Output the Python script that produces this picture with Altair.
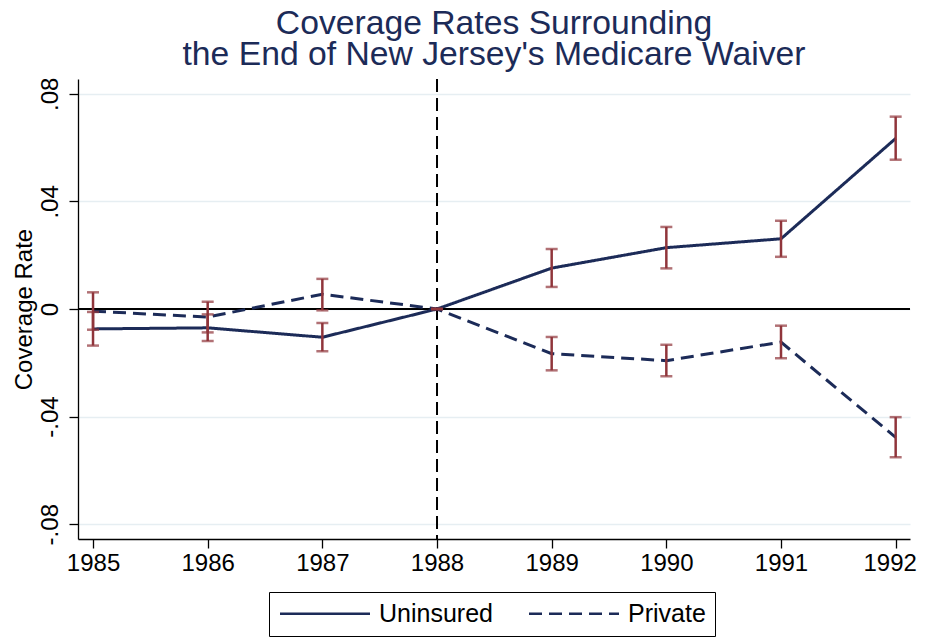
import altair as alt
import pandas as pd

FONT = "Liberation Sans"
NAVY = "#1c2b58"
CRAN = "#90353b"

years = [1985, 1986, 1987, 1988, 1989, 1990, 1991, 1992]

uninsured = [-0.0074, -0.0070, -0.0105, 0.0, 0.0152, 0.0228, 0.0261, 0.0634]
uninsured_lo = [-0.0136, -0.0119, -0.0157, 0.0, 0.0082, 0.0151, 0.0194, 0.0555]
uninsured_hi = [-0.0011, -0.0020, -0.0052, 0.0, 0.0223, 0.0305, 0.0328, 0.0715]

private = [-0.0008, -0.0030, 0.0055, 0.0, -0.0166, -0.0192, -0.0123, -0.0477]
private_lo = [-0.0077, -0.0087, -0.0005, 0.0, -0.0228, -0.0250, -0.0183, -0.0551]
private_hi = [0.0062, 0.0027, 0.0112, 0.0, -0.0104, -0.0133, -0.0062, -0.0402]

series_names = ["Uninsured", "Private"]
y_ticks = [-0.08, -0.04, 0.0, 0.04, 0.08]

rows = []
for name, vals, los, his in [
    ("Uninsured", uninsured, uninsured_lo, uninsured_hi),
    ("Private", private, private_lo, private_hi),
]:
    for yr, v, lo, hi in zip(years, vals, los, his):
        rows.append({"year": yr, "series": name, "value": v, "lo": lo, "hi": hi})
df = pd.DataFrame(rows)

x_scale = alt.Scale(domain=[1984.869, 1992.125], zero=False, nice=False)
y_scale = alt.Scale(domain=[-0.0855, 0.0855], zero=False, nice=False)

x_axis = alt.Axis(
    values=years, format="d", title=None, grid=False,
    labelFontSize=24, labelFont=FONT, labelColor="black", labelPadding=3,
    labelFlush=False, labelOverlap=False,
    labelOffset={"condition": {"test": "datum.value == 1992", "value": -6}, "value": 0},
    tickSize=9, tickColor="black", tickWidth=1.3,
    domainColor="black", domainWidth=1.3,
)
y_axis = alt.Axis(
    values=y_ticks,
    labelExpr="datum.value == 0 ? '0' : (datum.value < 0 ? '-' + replace(format(-datum.value, '.2f'), '0.', '.') : replace(format(datum.value, '.2f'), '0.', '.'))",
    labelAngle=-90, labelAlign="center", labelBaseline="alphabetic",
    labelFontSize=24, labelFont=FONT, labelColor="black", labelPadding=12,
    labelFlush=False, labelOverlap=False,
    tickSize=9, tickColor="black", tickWidth=1.3,
    domainColor="black", domainWidth=1.3,
    grid=True, gridColor="#e6eef2", gridWidth=1.5,
    title="Coverage Rate", titleFont=FONT, titleFontSize=24, titleFontWeight="normal",
    titleColor="black", titleAngle=-90, titleAlign="center", titleBaseline="alphabetic",
    titleX=-46.6, titleY=230,
)

base = alt.Chart(df)

vline = alt.Chart(pd.DataFrame({"x": [1988]})).mark_rule(
    color="black", strokeWidth=2, strokeDash=[13, 6]
).encode(x=alt.X("x:Q", scale=x_scale, axis=x_axis))

hline = alt.Chart(pd.DataFrame({"y": [0.0]})).mark_rule(
    color="black", strokeWidth=2
).encode(y=alt.Y("y:Q", scale=y_scale, axis=y_axis))

lines = base.mark_line(color=NAVY, strokeWidth=3).encode(
    x=alt.X("year:Q", scale=x_scale, axis=x_axis),
    y=alt.Y("value:Q", scale=y_scale, axis=y_axis),
    strokeDash=alt.StrokeDash(
        "series:N",
        scale=alt.Scale(domain=series_names, range=[[1, 0], [13, 7]]),
        legend=alt.Legend(
            orient="none", legendX=191, legendY=513, direction="horizontal",
            title=None, symbolType="M-5,0H5", symbolSize=324,
            symbolOffset=34.5,
            symbolStrokeWidth=2.5, symbolStrokeColor=NAVY,
            labelFontSize=25, labelFont=FONT, labelColor="black",
            labelOffset=41.5, columnPadding=31, padding=9,
            strokeColor="black", fillColor="white",
        ),
    ),
    detail="series:N",
)

err = base.mark_rule(color=CRAN, strokeWidth=2.5).encode(
    x=alt.X("year:Q", scale=x_scale),
    y=alt.Y("lo:Q", scale=y_scale),
    y2="hi:Q",
)
cap_lo = base.mark_tick(color=CRAN, orient="horizontal", size=12, thickness=2.5).encode(
    x=alt.X("year:Q", scale=x_scale),
    y=alt.Y("lo:Q", scale=y_scale),
)
cap_hi = base.mark_tick(color=CRAN, orient="horizontal", size=12, thickness=2.5).encode(
    x=alt.X("year:Q", scale=x_scale),
    y=alt.Y("hi:Q", scale=y_scale),
)

chart = alt.layer(vline, hline, lines, err, cap_lo, cap_hi).properties(
    width=832, height=460,
    autosize=alt.AutoSizeParams(type="none"),
    padding={"left": 70, "top": 71, "right": 7, "bottom": 99},
    title=alt.Title(
        text=["Coverage Rates Surrounding", "the End of New Jersey's Medicare Waiver"],
        fontSize=33.7, font=FONT, color=NAVY, fontWeight="normal",
        anchor="middle", lineHeight=31.7, baseline="bottom", offset=-28.8,
    ),
).configure_view(stroke=None).configure_axis(
    labelFont=FONT, titleFont=FONT
)

chart.save("out.html", embed_options={"renderer": "svg", "actions": False})
